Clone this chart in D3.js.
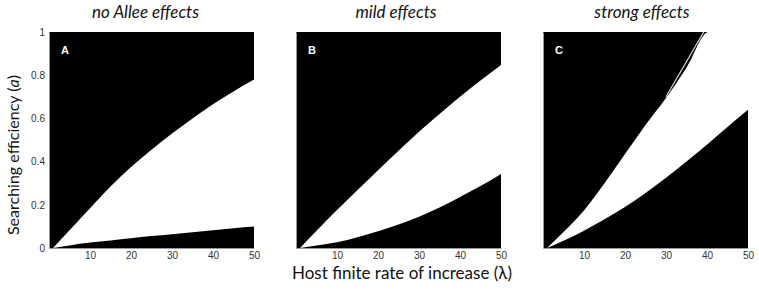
<!DOCTYPE html>
<html>
<head>
<meta charset="utf-8">
<script src="https://cdn.jsdelivr.net/npm/d3@7"></script>
<style>
  body { margin: 0; background: #fff; }
  svg { display: block; }
</style>
</head>
<body>
<svg id="chart" width="759" height="291"></svg>
<script>
const titles = ['no Allee effects', 'mild effects', 'strong effects'];
const panelLetters = ['A', 'B', 'C'];
const xTicks = [10, 20, 30, 40, 50];
const yTicks = [0, 0.2, 0.4, 0.6, 0.8, 1];

// edges of the white region (lambda, lower a, upper a)
const lambdaA = [1, 5, 10, 15, 20, 25, 30, 35, 40, 45, 50];
const upperA = [0, 0.082, 0.184, 0.285, 0.375, 0.455, 0.53, 0.60, 0.665, 0.725, 0.78];
const lowerA = [0, 0.012, 0.025, 0.035, 0.045, 0.055, 0.064, 0.073, 0.082, 0.091, 0.099];

const lambdaB = [1, 5, 10, 15, 20, 25, 30, 35, 40, 45, 50];
const upperB = [0, 0.08, 0.176, 0.268, 0.36, 0.45, 0.538, 0.62, 0.70, 0.775, 0.847];
const lowerB = [0, 0.012, 0.027, 0.05, 0.077, 0.109, 0.145, 0.187, 0.236, 0.287, 0.343];

const lambdaC = [1, 5, 10, 15, 20, 25, 30, 35, 40.4, 45, 50];
const upperC = [0, 0.074, 0.174, 0.30, 0.435, 0.57, 0.695, 0.835, 1, 1, 1];
const lowerC = [0, 0.033, 0.08, 0.133, 0.19, 0.255, 0.325, 0.40, 0.485, 0.56, 0.64];

// thin light streak inside the black of panel C
const streakLambda = [30, 39.2];
const streakA = [0.70, 1];

const panels = [
    { lambda: lambdaA, upper: upperA, lower: lowerA },
    { lambda: lambdaB, upper: upperB, lower: lowerB },
    { lambda: lambdaC, upper: upperC, lower: lowerC, streak: true }
];

const svg = d3.select('#chart');
const top0 = 32, bottom0 = 248, pw = 205;
const lefts = [49, 296, 543];
const titleX = [145.5, 396, 642];

const y = d3.scaleLinear().domain([0, 1]).range([bottom0, top0]);

panels.forEach((p, i) => {
    const x = d3.scaleLinear().domain([0, 50]).range([0, pw]);
    const g = svg.append('g').attr('transform', `translate(${lefts[i]},0)`);

    g.append('rect')
        .attr('x', 0)
        .attr('y', top0)
        .attr('width', pw)
        .attr('height', bottom0 - top0)
        .attr('fill', '#000');

    const rows = p.lambda.map((l, j) => ({ l: l, lo: p.lower[j], hi: p.upper[j] }));
    const area = d3.area()
        .x(d => x(d.l))
        .y0(d => y(d.lo))
        .y1(d => y(d.hi))
        .curve(d3.curveMonotoneX);

    g.append('path')
        .datum(rows)
        .attr('d', area)
        .attr('fill', '#fff');

    if (p.streak) {
        const line = d3.line().x(d => x(d[0])).y(d => y(d[1]));
        g.append('path')
            .datum(d3.zip(streakLambda, streakA))
            .attr('d', line)
            .attr('stroke', '#ddd')
            .attr('stroke-width', 1.2)
            .attr('fill', 'none');
    }

    // axes
    const xAxis = g.append('g')
        .attr('transform', `translate(0,${bottom0})`)
        .call(d3.axisBottom(x).tickValues(xTicks).tickSize(0).tickPadding(4));
    const yAxis = g.append('g')
        .call(d3.axisLeft(y).tickValues(yTicks).tickSize(0).tickPadding(4)
            .tickFormat(i === 0 ? d3.format('') : () => ''));

    [xAxis, yAxis].forEach(a => {
        a.select('.domain').attr('stroke', '#999').attr('stroke-width', 1);
        a.selectAll('text')
            .attr('font-family', 'Liberation Sans, Arial, sans-serif')
            .attr('font-size', 10)
            .attr('fill', '#333');
    });

    g.append('text')
        .attr('x', 12)
        .attr('y', 54)
        .attr('fill', '#fff')
        .attr('font-family', 'Liberation Sans, Arial, sans-serif')
        .attr('font-weight', 'bold')
        .attr('font-size', 11)
        .text(panelLetters[i]);

    svg.append('text')
        .attr('x', titleX[i])
        .attr('y', 18)
        .attr('text-anchor', 'middle')
        .attr('font-family', 'Lato, sans-serif')
        .attr('font-style', 'italic')
        .attr('font-size', 17)
        .attr('fill', '#111')
        .text(titles[i]);
});

svg.append('text')
    .attr('transform', 'rotate(-90)')
    .attr('x', -155)
    .attr('y', 19)
    .attr('text-anchor', 'middle')
    .attr('font-family', 'Lato, sans-serif')
    .attr('font-size', 16)
    .attr('fill', '#111')
    .html('Searching efficiency (<tspan font-style="italic">a</tspan>)');

svg.append('text')
    .attr('x', 402)
    .attr('y', 279)
    .attr('text-anchor', 'middle')
    .attr('font-family', 'Lato, sans-serif')
    .attr('font-size', 17)
    .attr('fill', '#111')
    .text('Host finite rate of increase (λ)');
</script>
</body>
</html>
